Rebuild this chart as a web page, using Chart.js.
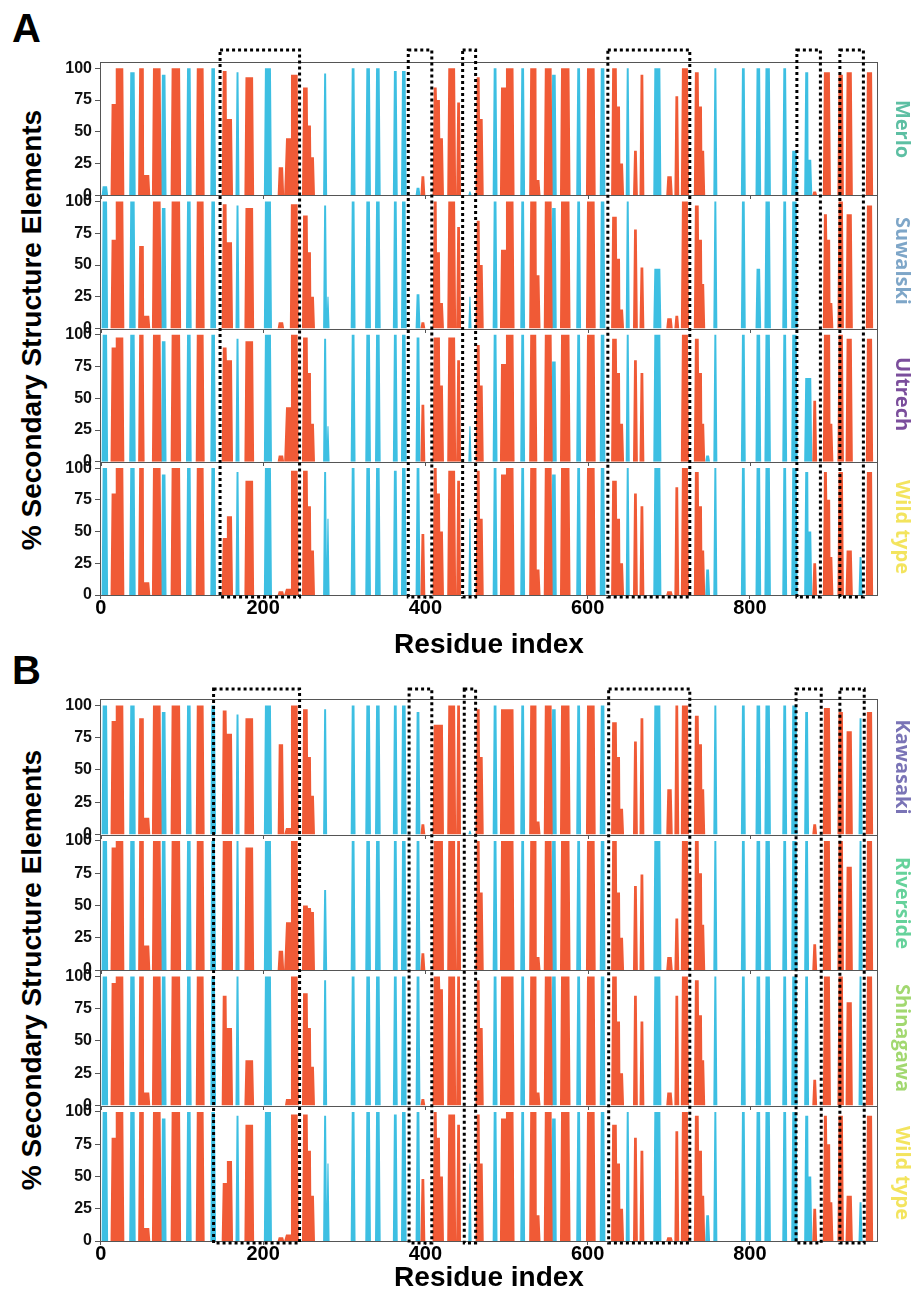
<!DOCTYPE html>
<html><head><meta charset="utf-8">
<script src="https://cdn.jsdelivr.net/npm/chart.js@4.4.1/dist/chart.umd.min.js"></script>
<style>
body{margin:0;background:#fff;width:913px;height:1295px;position:relative;overflow:hidden;font-family:"Liberation Sans",Arial,sans-serif;}
canvas{position:absolute;left:0;}
.panel{position:absolute;left:12px;font-weight:bold;font-size:40px;line-height:40px;color:#000;}
.ytitle{position:absolute;font-weight:bold;font-size:28px;white-space:nowrap;color:#000;transform:translate(-50%,-50%) rotate(-90deg);}
.vlab{position:absolute;font-family:"Open Sans",sans-serif;font-weight:700;font-size:20px;white-space:nowrap;transform:translate(-50%,-50%) rotate(90deg);}
</style>
</head><body>
<div class="panel" style="top:8px;">A</div>
<div class="panel" style="top:650px;">B</div>
<div class="ytitle" style="left:32px;top:330px;">% Secondary Structure Elements</div>
<div class="ytitle" style="left:32px;top:970px;">% Secondary Structure Elements</div>
<canvas id="cA" width="913" height="668" style="top:0px;width:913px;height:668px;"></canvas>
<canvas id="cB" width="913" height="665" style="top:630px;width:913px;height:665px;"></canvas>
<div class="vlab" style="left:903px;top:129px;color:#5dbfa3;">Merlo</div>
<div class="vlab" style="left:903px;top:261px;color:#7ea6c8;">Suwalski</div>
<div class="vlab" style="left:903px;top:394px;color:#7b4e9c;">Ultrech</div>
<div class="vlab" style="left:903px;top:527px;color:#f3e45e;">Wild type</div>
<div class="vlab" style="left:903px;top:767px;color:#7a74b6;">Kawasaki</div>
<div class="vlab" style="left:903px;top:903px;color:#66d29b;">Riverside</div>
<div class="vlab" style="left:903px;top:1038px;color:#a2d870;">Shinagawa</div>
<div class="vlab" style="left:903px;top:1173px;color:#f3e45e;">Wild type</div>
<script>
// ---------- data ----------
const xTicks = [0, 200, 400, 600, 800];
const yTicks = [0, 25, 50, 75, 100];
const xRange = [-1, 958];

// helix (red) and strand (cyan) residue segments [start, end]
const helixSegs = [[13,18],[18,28],[47,53],[53,60],[64,74],[87,98],[118,127],[150,155],[155,162],[178,188],
  [219,225],[228,234],[234,243],[249,255],[255,259],[259,263],[395,399],[410,414],[414,418],[418,422],
  [428,437],[439,443],[463,467],[467,471],[493,499],[499,509],[529,537],[537,541],[547,556],[567,578],
  [599,609],[630,636],[636,640],[640,644],[657,661],[665,669],[698,704],[708,712],[716,724],[732,737],
  [737,741],[741,744],[878,882],[891,895],[895,899],[899,902],[909,915],[919,926],[944,951]];
const strandSegs = [[2,8],[36,42],[75,80],[106,111],[136,141],[167,170],[202,210],[275,278],[279,281],[309,313],
  [327,332],[339,344],[361,365],[371,376],[389,393],[454,456],[484,488],[518,522],[556,561],[587,591],
  [616,621],[648,651],[682,690],[746,750],[756,759],[790,794],[808,813],[819,825],[841,845],[852,858],
  [868,872],[872,876],[922,925],[935,938]];

// panel A (top to bottom)
const namesA = ["Merlo", "Suwalski", "Ultrech", "Wild type"];
const helixMerlo = [72,100,100,16,100,100,100,98,60,93,22,45,95,85,55,30,15,85,75,45,100,73,93,60,85,100,100,12,100,100,100,100,70,25,35,95,15,78,100,97,70,35,3,97,97,0,95,97,97];
const strandMerlo = [7,97,95,100,100,97,100,96,0,100,100,100,98,98,6,3,100,100,95,100,100,100,100,0,100,100,100,100,100,35,97,28,15,0];
const helixSuwalski = [70,100,65,10,100,100,100,98,68,95,5,0,98,89,60,25,5,100,60,20,100,80,85,50,62,100,100,42,100,100,100,88,55,15,78,48,8,10,100,97,70,35,0,90,70,20,100,90,97];
const strandSuwalski = [100,100,95,100,100,97,100,97,25,100,100,100,100,100,27,25,100,100,95,100,100,100,47,0,100,100,47,100,100,100,0,0,0,0];
const helixUltrech = [90,98,100,0,100,100,100,90,80,95,5,43,100,98,70,30,45,98,98,60,98,80,92,60,77,100,100,0,100,100,100,97,70,30,80,70,0,0,100,97,70,30,48,100,100,30,100,97,97];
const strandUltrech = [100,100,95,100,100,97,100,97,28,100,100,100,100,100,98,28,100,100,79,100,100,100,100,5,100,100,100,100,100,100,66,66,0,0];
const helixWTA = [80,100,100,10,100,100,100,45,62,90,3,5,98,98,70,35,48,100,80,50,98,90,98,60,95,100,100,20,100,100,100,90,60,25,80,70,3,85,100,97,70,35,25,97,75,30,97,35,97];
const strandWTA = [100,100,95,100,100,97,100,97,60,100,100,100,98,100,100,60,100,100,95,100,100,100,100,20,100,100,100,100,100,100,97,50,0,30];
const boxesA = [[147,245],[379,408],[446,462],[625,726],[858,887],[911,940]];

// panel B (top to bottom)
const namesB = ["Kawasaki", "Riverside", "Shinagawa", "Wild type"];
const helixKawasaki = [88,100,90,13,100,100,100,96,78,90,70,5,100,97,60,30,8,85,85,85,100,100,97,60,97,97,100,10,100,100,100,87,60,20,72,90,35,100,100,92,70,35,8,98,98,0,95,80,95];
const strandKawasaki = [100,100,95,100,100,93,100,97,0,100,100,100,100,100,95,3,100,100,97,100,100,0,100,0,100,100,100,100,100,100,95,0,0,90];
const helixRiverside = [95,100,100,19,100,100,100,100,100,95,15,37,100,50,48,45,13,100,100,100,100,100,100,60,100,100,100,10,100,100,100,100,60,25,65,74,10,40,100,100,75,35,20,100,100,0,100,80,100];
const strandRiverside = [100,100,100,100,100,100,100,62,0,100,100,100,100,100,100,0,100,100,100,100,100,0,100,0,100,100,100,100,100,100,100,0,0,100];
const helixShinagawa = [95,100,100,10,100,100,100,85,60,35,0,5,100,87,60,30,5,100,100,90,100,100,97,60,100,100,100,10,100,100,100,100,65,25,85,65,10,85,100,97,70,35,20,100,100,0,100,80,100];
const strandShinagawa = [100,100,100,100,100,100,100,97,0,100,100,100,100,100,100,0,100,100,100,100,100,0,100,0,100,100,100,100,100,100,100,0,0,100];
const helixWTB = [80,100,100,10,100,100,100,45,62,90,3,5,98,98,70,35,48,100,80,50,98,90,98,60,95,100,100,20,100,100,100,90,60,25,80,70,3,85,100,97,70,35,25,97,75,30,97,35,97];
const strandWTB = [100,100,95,100,100,97,100,97,60,100,100,100,98,100,100,60,100,100,95,100,100,100,100,20,100,100,100,100,100,100,97,50,0,30];
const boxesB = [[139,245],[380,408],[448,462],[626,726],[857,888],[911,941]];

// ---------- build ----------
const RED = '#F05A36', CYAN = '#3DBFE2';
const FONT = '"Liberation Sans", Arial, sans-serif';

function buildArea(segs, heights){
  const items = segs.map((s,i)=>({a:s[0], b:s[1], h:heights[i]})).filter(o=>o.h>0).sort((p,q)=>p.a-q.a);
  const pts = [{x:xRange[0], y:0}];
  items.forEach((o,i)=>{
    const prev = items[i-1], next = items[i+1];
    const jp = prev && prev.b === o.a, jn = next && next.a === o.b;
    if(!jp) pts.push({x:o.a-1.0, y:0});
    pts.push({x:o.a+(jp?0.4:0.3), y:o.h});
    pts.push({x:o.b-(jn?0:0.3), y:o.h});
    if(!jn) pts.push({x:o.b+1.0, y:0});
  });
  pts.push({x:xRange[1], y:0});
  return pts;
}

const framePlugin = {
  id:'frames',
  afterDatasetsDraw(chart){
    const ctx = chart.ctx, ca = chart.chartArea, xs = chart.scales.x;
    ctx.save();
    ctx.strokeStyle = '#555'; ctx.lineWidth = 1;
    ['y0','y1','y2','y3'].forEach((id,k)=>{
      const s = chart.scales[id];
      ctx.strokeRect(ca.left+0.5, Math.round(s.top)+0.5, ca.right-ca.left-1, Math.round(s.bottom)-Math.round(s.top));
      if(k<3){
        xTicks.forEach(v=>{
          const px = Math.round(xs.getPixelForValue(v))+0.5;
          ctx.beginPath(); ctx.moveTo(px, Math.round(s.bottom)); ctx.lineTo(px, Math.round(s.bottom)+4); ctx.stroke();
        });
      }
    });
    ctx.restore();
  }
};

const boxPlugin = {
  id:'boxes',
  afterDraw(chart, args, opts){
    const ctx = chart.ctx, ca = chart.chartArea, xs = chart.scales.x;
    ctx.save();
    ctx.strokeStyle = '#000'; ctx.lineWidth = 3; ctx.setLineDash([3,3]);
    opts.boxes.forEach(b=>{
      const x0 = xs.getPixelForValue(b[0]), x1 = xs.getPixelForValue(b[1]);
      ctx.strokeRect(x0, ca.top - opts.above, x1-x0, ca.bottom - ca.top + opts.above + 2);
    });
    ctx.restore();
  }
};

function makeChart(id, helixSets, strandSets, boxes, padTop, xHeight, titlePad, above){
  const datasets = [];
  const scales = {
    x:{type:'linear', min:xRange[0], max:xRange[1],
      afterBuildTicks:s=>{s.ticks = xTicks.map(v=>({value:v}));},
      afterFit:s=>{s.height = xHeight;},
      ticks:{font:{family:FONT, weight:'bold', size:20}, color:'#000', padding:-3, maxRotation:0, autoSkip:false},
      grid:{drawOnChartArea:false, drawTicks:true, tickLength:4, color:'#555'},
      border:{display:false},
      title:{display:true, text:'Residue index', color:'#000', font:{family:FONT, weight:'bold', size:28}, padding:{top:0, bottom:titlePad}}
    }
  };
  // stacked axes: the first one configured is laid out at the bottom, so add y3 (bottom) .. y0 (top)
  for(let i=3;i>=0;i--){
    scales['y'+i] = {type:'linear', position:'left', stack:'panel', stackWeight:1, min:0, max:105,
      afterBuildTicks:s=>{s.ticks = yTicks.map(v=>({value:v}));},
      afterFit:s=>{s.width = 100;},
      ticks:{font:{family:FONT, weight:'bold', size:16}, color:'#111', padding:3, autoSkip:false},
      grid:{drawOnChartArea:false, drawTicks:true, tickLength:5, color:'#555'},
      border:{display:false}
    };
  }
  for(let i=0;i<4;i++){
    const yid = 'y'+i;
    datasets.push({type:'line', data:buildArea(helixSegs, helixSets[i]), yAxisID:yid, backgroundColor:RED,
      borderWidth:0, pointRadius:0, fill:'origin', tension:0});
    datasets.push({type:'line', data:buildArea(strandSegs, strandSets[i]), yAxisID:yid, backgroundColor:CYAN,
      borderWidth:0, pointRadius:0, fill:'origin', tension:0});
  }
  return new Chart(document.getElementById(id), {
    type:'line',
    data:{datasets},
    options:{responsive:false, animation:false, devicePixelRatio:1,
      layout:{padding:{left:0, top:padTop, right:35, bottom:0}},
      scales,
      plugins:{legend:{display:false}, tooltip:{enabled:false}, boxes:{boxes, above}}
    },
    plugins:[framePlugin, boxPlugin]
  });
}

makeChart('cA', [helixMerlo, helixSuwalski, helixUltrech, helixWTA],
  [strandMerlo, strandSuwalski, strandUltrech, strandWTA], boxesA, 62, 73, 6, 12);
makeChart('cB', [helixKawasaki, helixRiverside, helixShinagawa, helixWTB],
  [strandKawasaki, strandRiverside, strandShinagawa, strandWTB], boxesB, 69, 54, 0, 10);
</script>
</body></html>
